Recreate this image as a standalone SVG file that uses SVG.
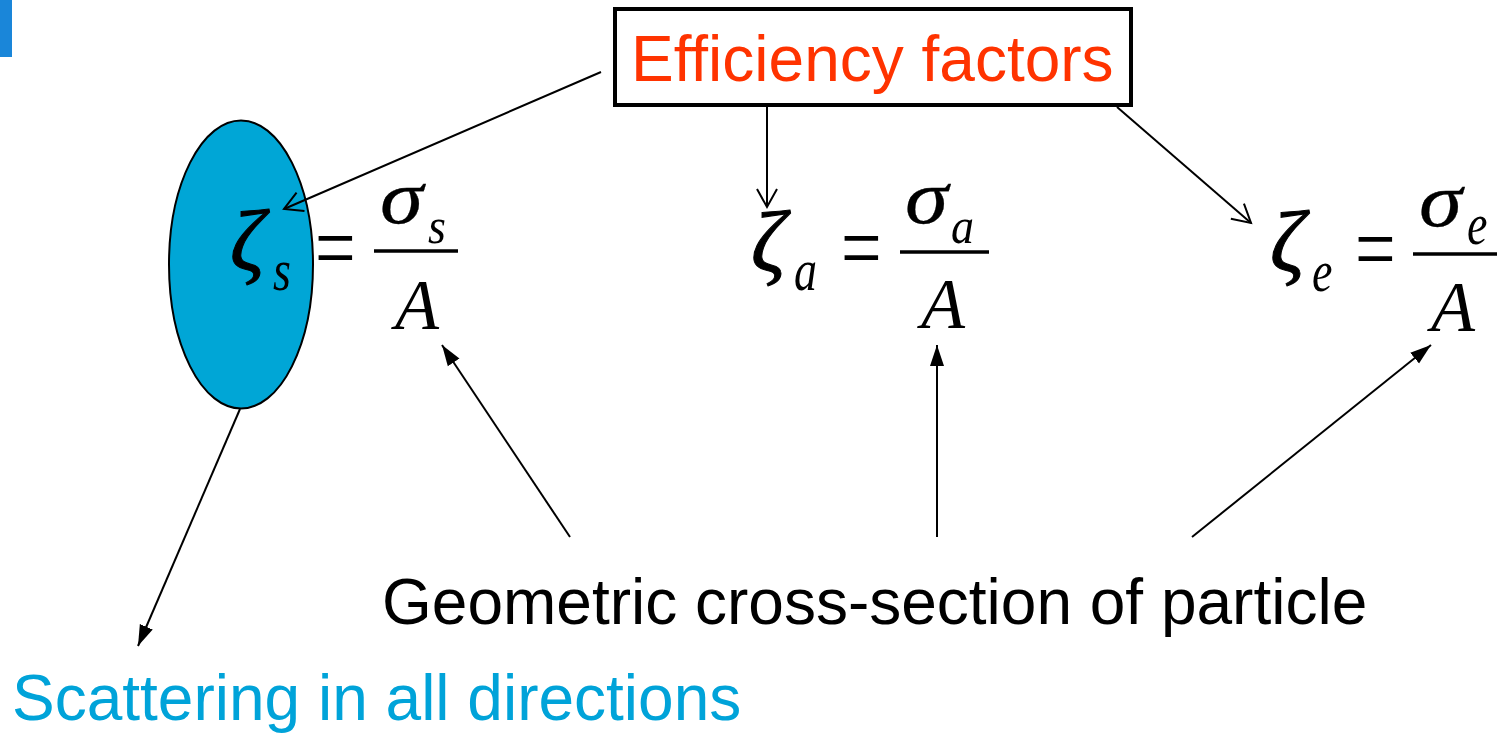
<svg xmlns="http://www.w3.org/2000/svg" width="1497" height="733" viewBox="0 0 1497 733">
<style>
.lbl{font-family:"Liberation Sans",Arial,sans-serif;font-size:64px}
.m{font-family:"Liberation Serif","Times New Roman",serif;font-style:italic;font-size:72px;fill:#000}
.g{font-family:"Liberation Serif","Times New Roman",serif;font-style:italic;font-size:86px;fill:#000;stroke:#000;stroke-width:1}
.sg{font-family:"Liberation Serif","Times New Roman",serif;font-style:italic;font-size:76px;fill:#000;stroke:#000;stroke-width:0.3}
.mu{font-family:"Liberation Serif","Times New Roman",serif;font-size:72px;fill:#000}
.sub{font-family:"Liberation Serif","Times New Roman",serif;font-style:italic;font-size:46px;fill:#000}
.thin{stroke:#000;stroke-width:2;fill:none}
.bar{stroke:#000;stroke-width:3.5}
</style>
<defs>
<marker id="open" markerUnits="userSpaceOnUse" markerWidth="24" markerHeight="26" viewBox="0 0 24 26" refX="21" refY="13" orient="auto">
<path d="M3,3 L21,13 L3,23" fill="none" stroke="#000" stroke-width="2"/>
</marker>
<marker id="solid" markerUnits="userSpaceOnUse" markerWidth="22" markerHeight="16" viewBox="0 0 22 16" refX="21" refY="8" orient="auto">
<path d="M0,1 L21,8 L0,15 Z" fill="#000"/>
</marker>
</defs>
<rect x="0" y="0" width="12" height="57" fill="#1a86d9"/>
<g id="particle">
<ellipse cx="241" cy="264.5" rx="72" ry="144" fill="#00a6d6" stroke="#000" stroke-width="2"/>
</g>
<g id="efficiency-box">
<rect x="615" y="9" width="516" height="96" fill="#fff" stroke="#000" stroke-width="4"/>
<text class="lbl" x="631" y="81" fill="#ff3300" font-size="63">Efficiency factors</text>
</g>
<g id="eq-s">
<text class="g" x="230" y="270">ζ</text>
<text class="sub" transform="translate(273,290) scale(1,1.3)">s</text>
<text class="mu" transform="translate(315,280) scale(1,1.35)">=</text>
<line class="bar" x1="374" y1="251" x2="458" y2="251"/>
<text class="sg" transform="translate(380,223) scale(1.15,1)">σ</text>
<text class="sub" transform="translate(428,243) scale(1,1.1)">s</text>
<text class="m" x="395" y="329">A</text>
</g>
<g id="eq-a">
<text class="g" x="751" y="271">ζ</text>
<text class="sub" transform="translate(794,290) scale(1,1.3)">a</text>
<text class="mu" transform="translate(841,280) scale(1,1.35)">=</text>
<line class="bar" x1="900" y1="252" x2="989" y2="252"/>
<text class="sg" transform="translate(905,223) scale(1.15,1)">σ</text>
<text class="sub" transform="translate(951,243) scale(1,1.1)">a</text>
<text class="m" x="921" y="328">A</text>
</g>
<g id="eq-e">
<text class="g" x="1270" y="271">ζ</text>
<text class="sub" transform="translate(1312,291) scale(1,1.3)">e</text>
<text class="mu" transform="translate(1355,281) scale(1,1.35)">=</text>
<line class="bar" x1="1413" y1="254" x2="1500" y2="254"/>
<text class="sg" transform="translate(1419,226) scale(1.15,1)">σ</text>
<text class="sub" transform="translate(1467,244) scale(1,1.3)">e</text>
<text class="m" x="1431" y="331">A</text>
</g>
<g id="geometric-label">
<text class="lbl" x="382" y="624" fill="#000">Geometric cross-section of particle</text>
</g>
<g id="scattering-label">
<text class="lbl" x="12" y="720" fill="#00a3d9">Scattering in all directions</text>
</g>
<g id="connectors">
<line class="thin" x1="601" y1="72" x2="284" y2="209" marker-end="url(#open)"/>
<line class="thin" x1="767" y1="107" x2="767" y2="207" marker-end="url(#open)"/>
<line class="thin" x1="1117" y1="107" x2="1251" y2="223" marker-end="url(#open)"/>
<line class="thin" x1="570" y1="537" x2="442" y2="345" marker-end="url(#solid)"/>
<line class="thin" x1="937" y1="537" x2="937" y2="345" marker-end="url(#solid)"/>
<line class="thin" x1="1192" y1="537" x2="1431" y2="345" marker-end="url(#solid)"/>
<line class="thin" x1="240" y1="409" x2="138" y2="646" marker-end="url(#solid)"/>
</g>
</svg>
